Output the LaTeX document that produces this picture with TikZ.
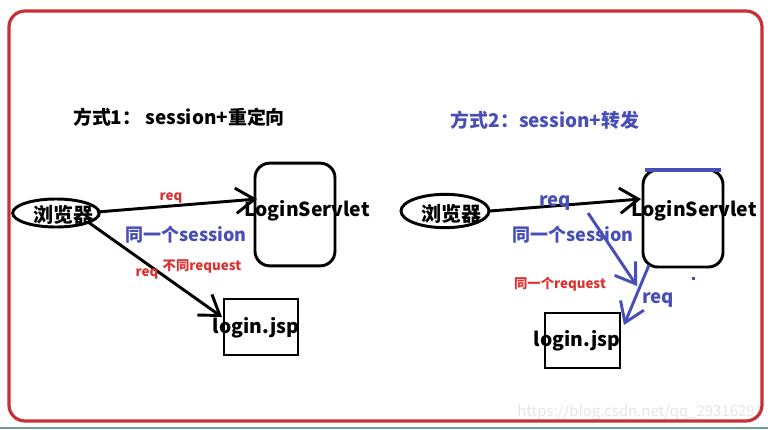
\documentclass[tikz,border=0pt]{standalone}
\usepackage{fontspec}
\setmainfont{Noto Sans CJK SC}
\usetikzlibrary{arrows.meta,shapes.geometric}
\definecolor{frame}{RGB}{200,48,56}
\definecolor{myblue}{RGB}{72,78,184}
\definecolor{myred}{RGB}{222,48,48}
\definecolor{wm}{RGB}{230,230,230}
\definecolor{teal}{RGB}{110,160,150}
\tikzset{
  bar/.style={-{Straight Barb[length=14pt,width=19pt,line width=2.2pt]},line width=2.2pt},
  ell/.style={draw,ellipse,line width=2.2pt,inner sep=0pt},
  elltxt/.style={font=\bfseries\fontsize{15}{15}\selectfont,inner sep=0pt},
  servbox/.style={draw,rounded corners=11pt,line width=2.2pt,inner sep=0pt,outer sep=0pt},
  jspbox/.style={draw,line width=2.2pt,inner sep=0pt},
  bigtxt/.style={font=\bfseries\fontsize{14.5}{15}\selectfont,inner sep=0pt},
  title/.style={font=\bfseries\fontsize{14.2}{15}\selectfont,inner sep=0pt},
  sess/.style={font=\bfseries\fontsize{13.5}{14}\selectfont,text=myblue,inner sep=0pt},
  smallred/.style={font=\bfseries\fontsize{10}{10}\selectfont,text=myred,inner sep=0pt},
  bluereq/.style={font=\bfseries\fontsize{14}{14}\selectfont,text=myblue,inner sep=0pt}
}
\begin{document}
\begin{tikzpicture}[x=0.75pt,y=-0.75pt]
\useasboundingbox (0,0) rectangle (768,429);
\fill[white] (0,0) rectangle (768,429);
% watermark
\node[text=wm,font=\fontsize{11.2}{11}\selectfont,inner sep=0pt,anchor=west] (wmk) at (517,412) {https://blog.csdn.net/qq\_29316291};
% frame
\draw[frame,line width=2.4pt,rounded corners=12pt] (9,11) rectangle (762,421);
\draw[teal,line width=0.9pt] (0,428) -- (768,428);

% ---------- left ----------
\node[title] (t1) at (179,117) {方式1：\ session+重定向};
\node[ell,minimum width=65pt,minimum height=21pt] (b1) at (56,213) {};
\node[elltxt] (b1t) at (63,215) {浏览器};
\node[servbox,minimum width=60pt,minimum height=77pt] (ls1) at (295,214.5) {};
\node[bigtxt] (ls1t) at (307,211) {LoginServlet};
\node[jspbox,minimum width=55.5pt,minimum height=42pt] (jsp1) at (261,327) {};
\node[bigtxt] (jsp1t) at (256,328) {login.jsp};
\coordinate (a1s) at (97,212);
\coordinate (a1e) at (257,199);
\coordinate (a2s) at (88,222);
\coordinate (a2e) at (222,317);
\draw[bar] (a1s) -- (a1e);
\draw[bar] (a2s) -- (a2e);
\node[smallred] (r1) at (171,198) {req};
\node[smallred] (r2) at (147,274) {req};
\node[smallred] (r3) at (202,266) {不同request};
\node[sess] (s1) at (186,235) {同一个session};

% ---------- right ----------
\node[title,text=myblue] (t2) at (545,120) {方式2：session+转发};
\node[ell,minimum width=66pt,minimum height=25pt] (b2) at (445,211) {};
\node[elltxt] (b2t) at (451,214) {浏览器};
\node[servbox,minimum width=60pt,minimum height=72.75pt] (ls2) at (683,218.5) {};
\draw[myblue,line width=2.4pt] ([xshift=1.5pt]ls2.north west) -- ([xshift=-1.5pt]ls2.north east);
\node[bigtxt] (ls2t) at (694,211) {LoginServlet};
\node[jspbox,minimum width=56.25pt,minimum height=41.25pt] (jsp2) at (582.5,340.5) {};
\node[bigtxt] (jsp2t) at (577,341) {login.jsp};
\coordinate (c1s) at (490,211);
\coordinate (c1e) at (641,199);
\draw[bar] (c1s) -- (c1e);
\coordinate (c2s) at (588,213);
\coordinate (c2e) at (637,286);
\coordinate (c3s) at (649,265);
\coordinate (c3e) at (624,325);
\draw[bar,myblue] (c2s) -- (c2e);
\draw[bar,myblue] (c3s) -- (c3e);
\node[bluereq] (q1) at (555,203) {req};
\node[bluereq] (q2) at (658,300) {req};
\node[sess] (s2) at (573,235) {同一个session};
\node[smallred] (r4) at (560,284) {同一个request};
\fill[myblue] (692,277) rectangle (695,280);
\end{tikzpicture}
\end{document}
